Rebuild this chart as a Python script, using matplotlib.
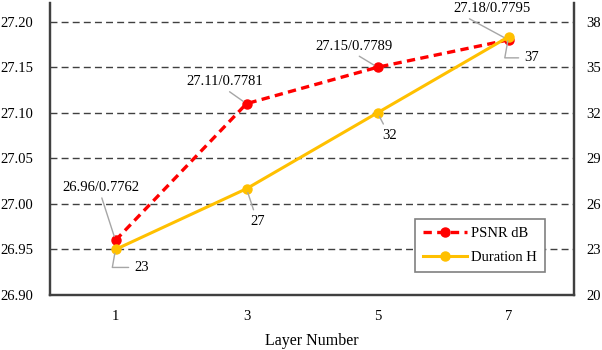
import matplotlib.pyplot as plt

# data
layers = ["1", "3", "5", "7"]
psnr = [26.96, 27.11, 27.15, 27.18]
ssim = [0.7762, 0.7781, 0.7789, 0.7795]
duration = [23, 27, 32, 37]

left_ticks = [26.90, 26.95, 27.00, 27.05, 27.10, 27.15, 27.20]
right_ticks = [20, 23, 26, 29, 32, 35, 38]

# label offsets in pixels (text centre relative to marker)
psnr_off = [(-15, 53), (-22, 22), (-24, 21), (-16, 31)]
psnr_rel = [(0.5, 0), (0.5, 0), (0.5, 0), (0.12, 0)]
dur_off = [(26, -18), (11, -33), (12, -23), (23, -21)]

plt.rcParams['font.family'] = ['Liberation Serif', 'DejaVu Serif']
plt.rcParams['font.size'] = 10.5

fig = plt.figure(figsize=(6.02, 3.5), dpi=100)
ax = fig.add_axes([50 / 602, 55 / 350, 524 / 602, 292 / 350])
ax2 = ax.twinx()

x = range(len(layers))
red = "#FF0000"
gold = "#FFC000"
spine_c = "#404040"
lead_c = "#A6A6A6"

l1, = ax.plot(x, psnr, color=red, lw=2.4, ls=(0, (2.5, 1.6)), marker="o",
              ms=6.5, label="PSNR dB", zorder=3)
l2, = ax2.plot(x, duration, color=gold, lw=2.2, marker="o", ms=6.5,
               label="Duration H", zorder=3)

ax.set_xlim(-0.5, len(layers) - 0.5)
ax.set_ylim(26.90, 27.2205)
ax2.set_ylim(20, 39.23)
ax.set_yticks(left_ticks)
ax.set_yticklabels([f"{v:.2f}" for v in left_ticks])
ax2.set_yticks(right_ticks)
ax.set_xticks(list(x))
ax.set_xticklabels(layers)

for v in left_ticks[1:]:
    ax.axhline(v, color=spine_c, lw=1, ls=(0, (5, 3)), zorder=1)

for a in (ax, ax2):
    a.spines["top"].set_visible(False)
    for s in ("left", "right", "bottom"):
        a.spines[s].set_color(spine_c)
        a.spines[s].set_linewidth(1.6)
    a.tick_params(length=0, labelsize=10.5, colors="black")
ax.tick_params(axis="y", pad=12)
ax2.tick_params(axis="y", pad=9)
ax.tick_params(axis="x", pad=11)
ax2.set_zorder(ax.get_zorder() + 1)
ax2.patch.set_visible(False)

ax.set_xlabel("Layer Number", fontsize=11.5, labelpad=7)

for i in x:
    ax.annotate(f"{psnr[i]:.2f}/{ssim[i]:.4f}", (i, psnr[i]),
                xytext=psnr_off[i], textcoords="offset pixels",
                ha="center", va="center",
                arrowprops=dict(arrowstyle="-", color=lead_c, lw=1,
                                relpos=psnr_rel[i], shrinkA=1, shrinkB=3),
                zorder=4)
    cs = "arc3"
    if i in (0, 3):
        cs = "angle,angleA=0,angleB=80,rad=0"
    ax2.annotate(str(duration[i]), (i, duration[i]),
                 xytext=dur_off[i], textcoords="offset pixels",
                 ha="center", va="center",
                 arrowprops=dict(arrowstyle="-", color=lead_c, lw=1,
                                 shrinkA=2, shrinkB=3, connectionstyle=cs),
                 zorder=4)

leg = ax2.legend(handles=[l1, l2], loc="upper left",
                 bbox_to_anchor=(415 / 602, 1 - 219 / 350),
                 bbox_transform=fig.transFigure, fancybox=False,
                 edgecolor="#808080", framealpha=1, handlelength=3.0,
                 labelspacing=0.7, borderpad=0.55, handletextpad=0.3,
                 borderaxespad=0, fontsize=10.5)
leg.get_frame().set_linewidth(1.2)

fig.savefig("out.png", dpi=100)
